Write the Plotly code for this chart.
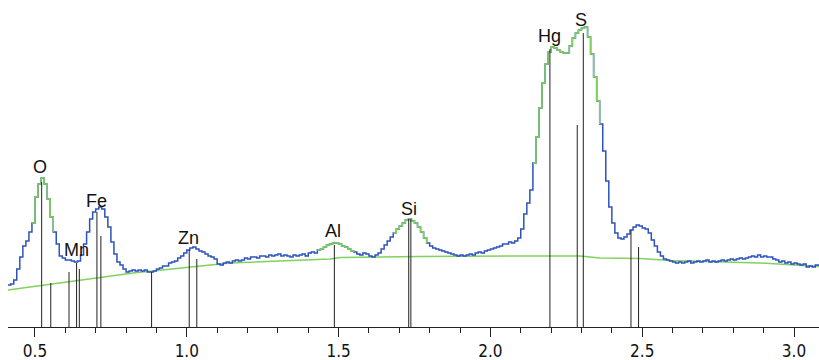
import plotly.graph_objects as go

# ---------------- data ----------------
energy_start = 0.41
energy_step = 0.01
counts = [
    42, 43, 47, 58, 70, 81, 86, 95, 104, 130,            # 0.41-0.50
    143, 149, 143, 128, 110, 95, 83, 71, 69, 67,         # 0.51-0.60
    67, 66, 65, 66, 72, 83, 95, 108, 115, 118,           # 0.61-0.70
    120, 118, 110, 100, 85, 73, 65, 62, 58, 55,          # 0.71-0.80
    56, 57, 56, 57, 56, 57, 55, 55, 56, 58,              # 0.81-0.90
    59, 61, 61, 64, 65, 66, 69, 71, 74, 77,              # 0.91-1.00
    79, 80, 78, 76, 75, 73, 71, 70, 68, 63,              # 1.01-1.10
    62, 64, 65, 64, 66, 67, 66, 67, 69, 68,              # 1.11-1.20
    70, 70, 69, 71, 71, 70, 72, 71, 72, 73,              # 1.21-1.30
    71, 72, 71, 70, 72, 71, 72, 73, 71, 74,              # 1.31-1.40
    75, 74, 77, 78, 80, 82, 83, 84, 84, 83,              # 1.41-1.50
    81, 80, 78, 76, 75, 73, 72, 74, 73, 71,              # 1.51-1.60
    70, 72, 74, 78, 82, 86, 90, 94, 98, 101,             # 1.61-1.70
    104, 107, 108, 106, 104, 100, 95, 89, 84, 81,        # 1.71-1.80
    79, 78, 77, 76, 75, 74, 73, 72, 71, 72,              # 1.81-1.90
    71, 72, 73, 72, 74, 75, 74, 76, 77, 78,              # 1.91-2.00
    79, 80, 81, 83, 83, 85, 84, 86, 89, 98,              # 2.01-2.10
    113, 124, 137, 164, 190, 219, 244, 263, 275, 280,    # 2.11-2.20
    279, 277, 275, 274, 274, 281, 289, 294, 297, 299,    # 2.21-2.30
    300, 290, 273, 250, 226, 203, 176, 146, 120, 104,    # 2.31-2.40
    94, 89, 88, 90, 93, 97, 100, 102, 101, 99,           # 2.41-2.50
    98, 94, 87, 81, 75, 71, 68, 67, 66, 65,              # 2.51-2.60
    64, 65, 64, 65, 66, 64, 65, 66, 65, 66,              # 2.61-2.70
    67, 65, 66, 65, 66, 67, 66, 67, 68, 67,              # 2.71-2.80
    68, 69, 68, 69, 70, 71, 70, 72, 70, 71,              # 2.81-2.90
    70, 70, 68, 67, 65, 66, 64, 65, 63, 64,              # 2.91-3.00
    63, 62, 63, 60, 61, 60, 62, 61,                      # 3.01-3.08
]
energies = [round(energy_start + i * energy_step, 2) for i in range(len(counts))]

# fitted background (green)
bg_energy = [0.411, 0.823, 1.142, 1.472, 1.505, 1.768, 2.097, 2.295, 2.361, 2.493, 2.592, 2.888, 3.082]
bg_counts = [37, 54, 64, 68, 69.5, 70.5, 71, 71, 69, 68.5, 66.5, 64, 60.5]

# energy ranges where the fitted peak coincides with the spectrum (green overlay)
fit_ranges = [(0.49, 0.56), (1.43, 1.55), (1.68, 1.79), (2.14, 2.36)]

# element marker lines
line_energy = [0.522, 0.552, 0.612, 0.637, 0.646, 0.704, 0.717, 0.884, 1.008, 1.033,
               1.486, 1.731, 1.738, 2.196, 2.286, 2.306, 2.463, 2.488]
line_height = [145, 44, 55, 64, 58, 115, 91, 55, 77, 68,
               82, 108, 108, 278, 202, 294, 97, 80]

# element labels
label_text = ["O", "Mn", "Fe", "Zn", "Al", "Si", "Hg", "S"]
label_energy = [0.517, 0.638, 0.703, 1.007, 1.481, 1.733, 2.196, 2.298]
label_y = [160, 77, 126, 89.5, 96.5, 118.5, 291, 307.5]

tick_vals = [0.5, 1.0, 1.5, 2.0, 2.5, 3.0]
tick_text = ["0.5", "1.0", "1.5", "2.0", "2.5", "3.0"]

# ---------------- figure ----------------
BLUE = "#2b52bf"
GREEN = "#80d25c"

fig = go.Figure()

fig.add_trace(go.Scatter(x=bg_energy, y=bg_counts, mode="lines",
                         line=dict(color=GREEN, width=1.5), hoverinfo="skip"))

fig.add_trace(go.Scatter(x=energies, y=counts, mode="lines", line_shape="hv",
                         line=dict(color=BLUE, width=1.5), hoverinfo="skip"))

ox, oy = [], []
for lo, hi in fit_ranges:
    for e, c in zip(energies, counts):
        if lo - 1e-9 <= e <= hi + 1e-9:
            ox.append(e)
            oy.append(c)
    ox.append(None)
    oy.append(None)
fig.add_trace(go.Scatter(x=ox, y=oy, mode="lines", line_shape="hv",
                         line=dict(color=GREEN, width=1.5), hoverinfo="skip",
                         connectgaps=False))

lx, ly = [], []
for e, h in zip(line_energy, line_height):
    lx += [e, e, None]
    ly += [0, h, None]
fig.add_trace(go.Scatter(x=lx, y=ly, mode="lines",
                         line=dict(color="#222222", width=1), hoverinfo="skip"))

for t, e, y in zip(label_text, label_energy, label_y):
    fig.add_annotation(x=e, y=y, text=t, showarrow=False, xanchor="center", yanchor="middle",
                       font=dict(family="Liberation Sans, Arial, sans-serif", size=18, color="#111111"))

fig.update_layout(
    width=819, height=360,
    margin=dict(l=8, r=0, t=0, b=33),
    paper_bgcolor="white", plot_bgcolor="white",
    showlegend=False,
)
fig.update_xaxes(
    range=[0.4111, 3.0823], showgrid=False, zeroline=False,
    showline=True, linecolor="#222222", linewidth=1,
    tickmode="array", tickvals=tick_vals, ticktext=tick_text,
    ticks="outside", ticklen=9, tickcolor="#222222", tickwidth=1,
    minor=dict(dtick=0.1, tick0=0.5, ticks="outside", ticklen=5, tickcolor="#222222", tickwidth=1),
    tickfont=dict(family="Liberation Sans Narrow, Arial Narrow, DejaVu Sans Condensed, sans-serif",
                  size=17, color="#111111"),
)
fig.update_yaxes(range=[0, 327], visible=False, showgrid=False, zeroline=False)

fig.write_html("out.html", config={"displayModeBar": False},
               post_script="document.body.style.margin='0';document.body.style.overflow='hidden';")
